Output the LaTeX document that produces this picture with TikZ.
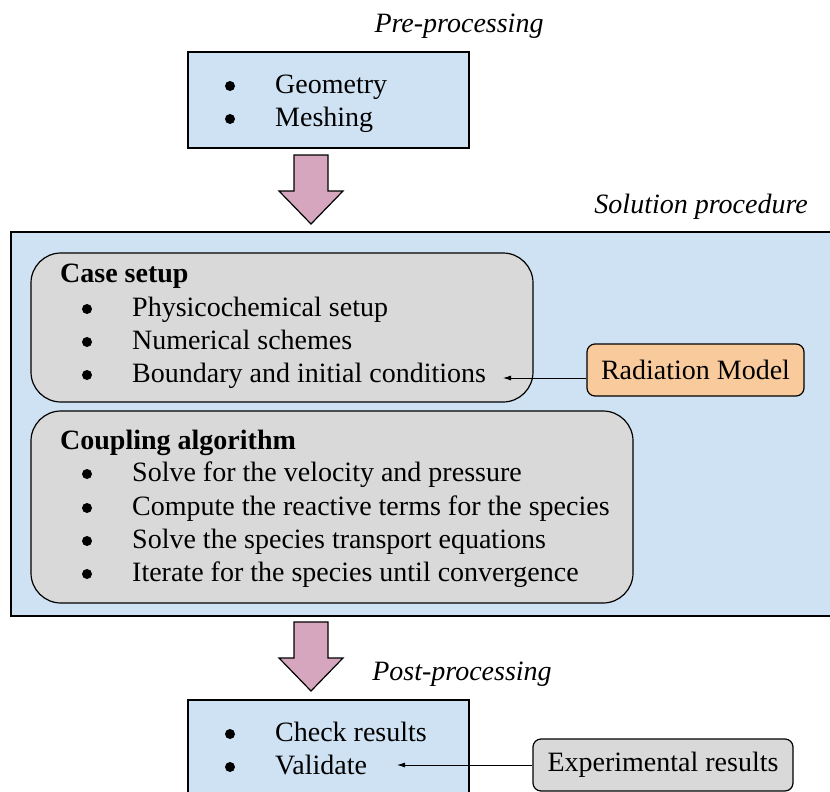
\documentclass[tikz,border=0pt]{standalone}
\usepackage{fontspec}
\setmainfont{Liberation Serif}
\usetikzlibrary{arrows.meta}
\definecolor{paleblue}{HTML}{CFE2F3}
\definecolor{palegrey}{HTML}{D9D9D9}
\definecolor{paleorange}{HTML}{F9CB9C}
\definecolor{palepink}{HTML}{D5A6BD}
\begin{document}
\begin{tikzpicture}[x=1pt,y=-1pt,
  every node/.style={font=\fontsize{28}{32}\selectfont, inner sep=0pt},
  stage/.style={draw, line width=1.2pt, fill=paleblue, rectangle},
  group/.style={draw, line width=1.2pt, fill=palegrey, rectangle, rounded corners=30pt},
  extra/.style={draw, line width=1.2pt, rectangle, rounded corners=8pt},
  item/.style={anchor=base west},
  dot/.style={circle, fill=black, minimum size=10pt},
  bigarrow/.style={draw, line width=1.2pt, fill=palepink, line join=miter},
  feed/.style={-{Latex[length=8pt,width=5pt]}, line width=0.8pt}]
  \useasboundingbox (0,0) rectangle (830,792);

  % titles
  \node (pretitle) at (459,26) {\itshape Pre-processing};
  \node (soltitle) [anchor=east] at (808,207) {\itshape Solution procedure};
  \node (posttitle) at (462,674) {\itshape Post-processing};

  % pre-processing box
  \node [stage, minimum width=281pt, minimum height=96pt] (pre) at (328.5,100) {};
  \node [dot] (p1) at (230,86) {};
  \node [item] (g) at (275,93) {Geometry};
  \node [dot] (p2) at (230,119) {};
  \node [item] (m) at (275,126) {Meshing};

  % arrow to solution
  \draw [bigarrow] (294,155) -- (328,155) -- (328,191) -- (343,191) -- (311,224)
    -- (279,191) -- (294,191) -- cycle;

  % solution procedure box
  \node [stage, minimum width=840pt, minimum height=384pt] (sol) at (431,424) {};

  \node [group, minimum width=502pt, minimum height=149pt] (case) at (282,327.5) {};
  \node [item] (casetitle) at (60,282) {\bfseries Case setup};
  \node [dot] (c1) at (87,309) {};
  \node [item] (phys) at (132,316) {Physicochemical setup};
  \node [dot] (c2) at (87,342) {};
  \node [item] (num) at (132,349) {Numerical schemes};
  \node [dot] (c3) at (87,375) {};
  \node [item] (bnd) at (132,382) {Boundary and initial conditions};

  \node [group, minimum width=602pt, minimum height=192pt] (coup) at (332,507) {};
  \node [item] (couptitle) at (60,449) {\bfseries Coupling algorithm};
  \node [dot] (k1) at (87,474) {};
  \node [item] (vel) at (132,481) {Solve for the velocity and pressure};
  \node [dot] (k2) at (87,508) {};
  \node [item] (react) at (132,515) {Compute the reactive terms for the species};
  \node [dot] (k3) at (87,541) {};
  \node [item] (trans) at (132,548) {Solve the species transport equations};
  \node [dot] (k4) at (87,574) {};
  \node [item] (iter) at (132,581) {Iterate for the species until convergence};

  \node [extra, fill=paleorange, minimum width=217pt, minimum height=52pt] (rad) at (695.5,370) {Radiation Model};
  \coordinate (radin) at (503,378);
  \draw [feed] (rad.west |- radin) -- (radin);

  % arrow to post-processing
  \draw [bigarrow] (294,622) -- (328,622) -- (328,658) -- (343,658) -- (311,691)
    -- (279,658) -- (294,658) -- cycle;

  % post-processing box
  \node [stage, minimum width=281pt, minimum height=110pt] (post) at (328.5,755) {};
  \node [dot] (q1) at (230,734) {};
  \node [item] (check) at (275,741) {Check results};
  \node [dot] (q2) at (230,767) {};
  \node [item] (valid) at (275,774) {Validate};

  \node [extra, fill=palegrey, minimum width=260pt, minimum height=52pt] (exp) at (663,765) {Experimental results};
  \coordinate (expin) at (397,765);
  \draw [feed] (exp.west) -- (expin);
\end{tikzpicture}
\end{document}
